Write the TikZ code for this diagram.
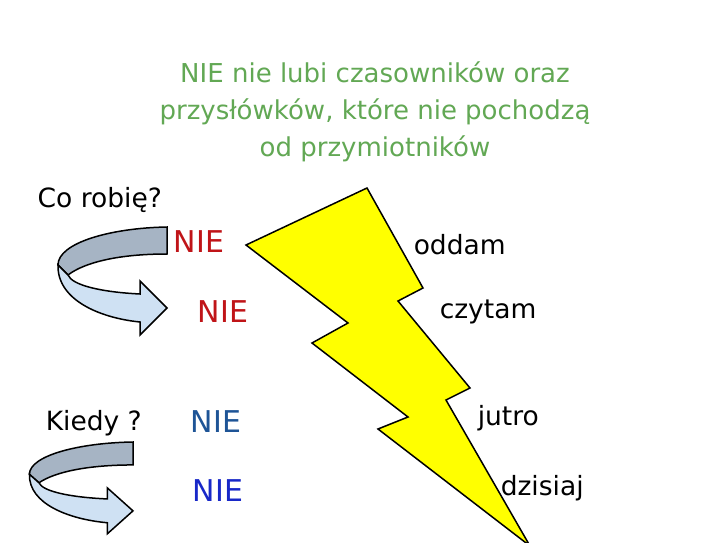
\documentclass[tikz,border=0pt]{standalone}
\usepackage{fontspec}
\setmainfont{DejaVu Sans}
\definecolor{titlegreen}{RGB}{98,168,84}
\definecolor{nieRed}{RGB}{192,20,24}
\definecolor{nieBlue}{RGB}{30,84,150}
\definecolor{nieBlueB}{RGB}{24,40,200}
\definecolor{ribbonBack}{RGB}{166,180,196}
\definecolor{ribbonFront}{RGB}{207,225,243}
\definecolor{boltYellow}{RGB}{255,255,0}
\newcommand{\Ribbon}[4]{
	\begin{scope}[shift={(#1,#2)}, xscale=#3, yscale=#4]
		% back side of the band
		\draw[fill=ribbonBack] (0,0) .. controls (-57,1) and (-109,16) .. (-109,38)
			-- (-99,48) .. controls (-82,35) and (-47,27) .. (0,27) -- cycle;
		% front side with the head
		\draw[fill=ribbonFront] (-109,38) .. controls (-110,73) and (-67,91) .. (-27,95)
			-- (-27,108) -- (0,81) -- (-27,54) -- (-27,67)
			.. controls (-67,65) and (-95,58) .. (-99,48) -- cycle;
	\end{scope}
}
\begin{document}
\begin{tikzpicture}[x=1pt, y=-1pt, line width=1.5pt,
		txt/.style={inner sep=0pt, font=\fontsize{26.5}{30}\selectfont},
		word/.style={txt, anchor=west},
		nie/.style={word, font=\fontsize{30}{34}\selectfont}]
	\useasboundingbox[fill=white] (0,0) rectangle (724,543);
	% title
	\node[txt, text=titlegreen, align=center, font=\fontsize{26}{37}\selectfont] (title) at (375,112)
		{NIE nie lubi czasowników oraz\\przysłówków, które nie pochodzą\\od przymiotników};
	% lightning
	\draw[fill=boltYellow, line join=miter] (246,245) -- (367,188) -- (423,288) -- (398,301)
		-- (470,388) -- (446,400) -- (530,546) -- (378,429) -- (408,417)
		-- (312,343) -- (348,323) -- cycle;
	% arrows
	\Ribbon{167}{227}{1}{1}
	\Ribbon{133}{442}{0.95}{0.85}
	% questions
	\node[word] (corobie) at (37,200) {Co robię?};
	\node[word] (kiedy) at (45,423) {Kiedy ?};
	% NIE
	\node[nie, text=nieRed] (nieA) at (173,242) {NIE};
	\node[nie, text=nieRed] (nieB) at (197,312) {NIE};
	\node[nie, text=nieBlue] (nieC) at (190,422) {NIE};
	\node[nie, text=nieBlueB] (nieD) at (192,491) {NIE};
	% words
	\node[word] (oddam) at (413,245) {oddam};
	\node[word] (czytam) at (439,312) {czytam};
	\node[word] (jutro) at (477,418) {jutro};
	\node[word] (dzisiaj) at (500,488) {dzisiaj};
\end{tikzpicture}
\end{document}
